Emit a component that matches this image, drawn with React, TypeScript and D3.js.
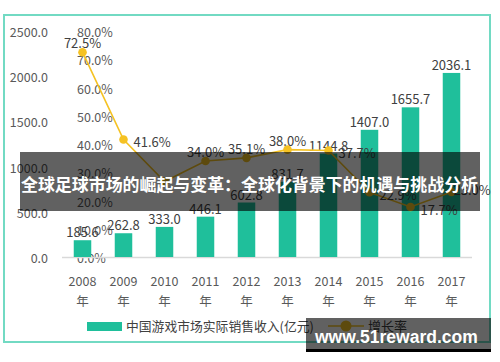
import React from "react";
import * as d3 from "d3";

const years = ["2008", "2009", "2010", "2011", "2012", "2013", "2014", "2015", "2016", "2017"];
const revenue = [185.6, 262.8, 333.0, 446.1, 602.8, 831.7, 1144.8, 1407.0, 1655.7, 2036.1];
const growth = [72.5, 41.6, 26.7, 34.0, 35.1, 38.0, 37.7, 22.9, 17.7, 23.0];
const growthLabelPos = ["top", "right", "none", "top", "top", "top", "right", "right", "right", "near"];
const leftTicks = [0, 500, 1000, 1500, 2000, 2500];
const pctTicks = [0, 10, 20, 30, 40, 50, 60, 70, 80];
const legendBar = "中国游戏市场实际销售收入(亿元)";
const legendLine = "增长率";
const bannerText = "全球足球市场的崛起与变革：全球化背景下的机遇与挑战分析";
const watermark = "www.51reward.com";

const W = 500;
const H = 362;
const TEAL = "#1fbf9b";
const GOLD = "#f5c223";
const FONT = "'Noto Sans CJK SC', 'Open Sans', sans-serif";

export default function App() {
  const x = d3
    .scaleBand<string>()
    .domain(years)
    .range([62, 472])
    .paddingInner(0.573)
    .paddingOuter(0.2865);
  const y = d3.scaleLinear().domain([0, 2500]).range([257, 31]);
  const yp = d3.scaleLinear().domain([0, 80]).range([257, 31]);
  const cx = (d: string) => (x(d) as number) + x.bandwidth() / 2;
  const line = d3
    .line<number>()
    .x((_, i) => cx(years[i]))
    .y((v) => yp(v));

  return (
    <svg
      width={W}
      height={H}
      style={{ position: "absolute", left: 0, top: 0, background: "#fff" }}
      fontFamily={FONT}
    >
      <rect x={0} y={0} width={W} height={H} fill="#fff" />
      <rect x={4} y={15} width={486} height={327} fill="#fff" stroke="#72dac3" strokeWidth={2} />

      {leftTicks.map((t) => (
        <text key={"l" + t} x={48} y={y(t) + 6} textAnchor="end" fontSize={12.5} fill="#595959">
          {d3.format(".1f")(t)}
        </text>
      ))}
      {pctTicks.map((t) => (
        <text key={"p" + t} x={77} y={yp(t) + 6} textAnchor="start" fontSize={12.5} fill="#595959">
          {d3.format(".1f")(t) + "%"}
        </text>
      ))}

      <line x1={62} x2={472} y1={y(0) + 0.5} y2={y(0) + 0.5} stroke="#d9d9d9" strokeWidth={1.5} />

      {years.map((yr, i) => (
        <rect
          key={"b" + yr}
          x={x(yr)}
          y={y(revenue[i])}
          width={x.bandwidth()}
          height={y(0) - y(revenue[i])}
          fill={TEAL}
        />
      ))}
      {years.map((yr, i) => (
        <text
          key={"bl" + yr}
          x={cx(yr)}
          y={y(revenue[i]) - 3}
          textAnchor="middle"
          fontSize={13}
          fill="#404040"
        >
          {d3.format(".1f")(revenue[i])}
        </text>
      ))}

      <path d={line(growth) || ""} fill="none" stroke={GOLD} strokeWidth={1.6} />
      {growth.map((g, i) => (
        <circle key={"c" + i} cx={cx(years[i])} cy={yp(g)} r={4.3} fill={GOLD} />
      ))}
      {growth.map((g, i) => {
        const pos = growthLabelPos[i];
        if (pos === "none") return null;
        const px = cx(years[i]);
        const py = yp(g);
        const label = d3.format(".1f")(g) + "%";
        if (pos === "top")
          return (
            <text key={"gl" + i} x={px} y={py - 4} textAnchor="middle" fontSize={13} fill="#404040">
              {label}
            </text>
          );
        if (pos === "near")
          return (
            <text key={"gl" + i} x={px + 2} y={py + 3} textAnchor="start" fontSize={13} fill="#404040">
              {label}
            </text>
          );
        return (
          <text key={"gl" + i} x={px + 10} y={py + 8} textAnchor="start" fontSize={13} fill="#404040">
            {label}
          </text>
        );
      })}

      {years.map((yr) => (
        <g key={"x" + yr}>
          <text x={cx(yr)} y={286} textAnchor="middle" fontSize={12.5} fill="#595959">
            {yr}
          </text>
          <text x={cx(yr)} y={306} textAnchor="middle" fontSize={12.5} fill="#595959">
            年
          </text>
        </g>
      ))}

      <rect x={87} y={322} width={35} height={9} fill={TEAL} />
      <text x={126} y={331} fontSize={12.8} fill="#404040">
        {legendBar}
      </text>
      <line x1={328} x2={364} y1={326} y2={326} stroke={GOLD} strokeWidth={1.6} />
      <circle cx={346} cy={326} r={5.5} fill={GOLD} />
      <text x={368} y={331} fontSize={13} fill="#404040">
        {legendLine}
      </text>

      <rect x={20} y={152} width={460} height={59} fill="rgba(0,0,0,0.62)" />
      <text x={21} y={191} fontSize={17} fontWeight="bold" fill="#fff" textLength={457} lengthAdjust="spacingAndGlyphs">
        {bannerText}
      </text>

      <rect x={306} y={318} width={185} height={34} fill="rgba(0,0,0,0.62)" />
      <rect x={306} y={349} width={185} height={3} fill="#000" />
      <text
        x={315}
        y={343}
        fontSize={17.5}
        fontWeight="bold"
        fill="#fff"
        fontFamily="'Liberation Sans', Arial, sans-serif"
      >
        {watermark}
      </text>
    </svg>
  );
}
